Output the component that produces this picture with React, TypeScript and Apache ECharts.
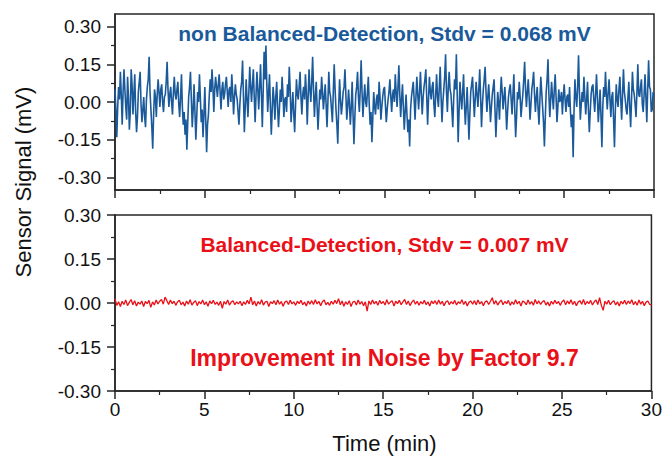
import React, { useEffect, useRef } from "react";
import * as echarts from "echarts";

// Sampling steps of the recorded traces (minutes)
const topStepMin = 0.05;
const bottomStepMin = 0.1;

// Top panel: non balanced detection (mV), one value every 0.05 min from 0 to 30 (one row per minute)
const nonBalancedSignal: number[] = [
  0.05, -0.03, -0.14, -0.02, 0.06, 0.01, 0.12, 0.03, -0.09, 0.04, 0.13, 0.05, -0.02, -0.07, 0.10, 0.02, -0.11, -0.04, 0.13, 0.07,
  -0.05, 0.03, 0.11, -0.04, -0.12, -0.06, 0.04, 0.08, 0.12, -0.01, -0.08, -0.03, 0.02, -0.06, -0.10, 0.01, 0.06, 0.09, 0.18, 0.04,
  -0.03, -0.10, -0.186, -0.05, 0.05, 0.02, -0.06, 0.03, 0.09, 0.04, -0.02, 0.05, 0.07, 0.00, -0.04, 0.02, 0.03, 0.08, 0.16, 0.05,
  -0.02, 0.03, 0.06, 0.00, -0.05, 0.04, 0.10, 0.03, 0.01, 0.05, 0.08, -0.01, -0.06, 0.02, 0.11, -0.02, -0.09, -0.04, -0.13, -0.07,
  -0.19, -0.08, 0.02, 0.06, 0.12, 0.01, -0.10, -0.03, 0.07, -0.04, -0.15, -0.06, 0.04, 0.00, 0.11, 0.02, -0.08, -0.03, -0.14, -0.05,
  0.06, -0.07, -0.20, -0.09, -0.05, 0.03, 0.09, 0.04, 0.13, 0.06, -0.04, 0.05, 0.10, 0.06, 0.02, 0.07, 0.11, 0.04, -0.03, 0.05,
  0.08, 0.01, 0.03, 0.07, 0.10, 0.04, -0.02, 0.05, 0.06, 0.00, 0.11, 0.04, -0.05, 0.02, 0.07, 0.03, 0.01, -0.04, -0.09, -0.01,
  0.05, 0.08, 0.165, 0.02, -0.12, -0.02, 0.09, 0.01, -0.06, 0.04, 0.14, 0.06, 0.00, 0.07, 0.13, 0.02, -0.08, 0.03, 0.12, 0.05,
  -0.03, 0.06, 0.15, 0.03, -0.10, 0.05, 0.20, 0.09, 0.225, 0.07, -0.04, 0.04, 0.11, -0.02, -0.13, -0.03, 0.06, 0.01, -0.07, 0.02,
  0.08, -0.02, -0.10, -0.03, 0.05, 0.00, 0.10, 0.03, -0.06, 0.01, 0.02, -0.04, 0.07, 0.02, 0.14, 0.05, -0.08, -0.02, 0.04, -0.05,
  -0.12, -0.01, 0.09, 0.03, 0.01, 0.06, 0.12, 0.02, -0.05, 0.03, 0.06, 0.01, 0.11, 0.04, -0.09, 0.02, 0.13, 0.05, 0.00, 0.08,
  0.18, 0.05, -0.06, 0.02, 0.08, -0.02, -0.11, -0.03, 0.05, 0.01, 0.10, 0.04, -0.03, 0.02, 0.07, -0.01, -0.10, 0.00, 0.12, 0.04,
  0.02, -0.03, -0.08, 0.04, 0.15, 0.05, -0.03, -0.09, -0.166, -0.02, 0.09, 0.01, -0.05, -0.01, 0.04, 0.06, 0.13, 0.03, -0.07, -0.02,
  0.05, -0.01, -0.09, -0.02, 0.08, -0.05, -0.168, -0.06, 0.03, 0.06, 0.12, 0.02, -0.04, 0.05, 0.166, 0.04, -0.06, 0.01, 0.07, 0.00,
  -0.02, 0.04, 0.10, -0.01, -0.09, -0.04, -0.16, -0.06, 0.04, -0.02, -0.05, 0.01, 0.03, -0.03, 0.08, 0.02, -0.07, -0.02, 0.02, 0.05,
  0.06, -0.01, -0.08, -0.03, 0.01, 0.04, 0.09, 0.02, -0.04, 0.03, 0.05, 0.00, 0.11, 0.04, -0.02, 0.06, 0.146, 0.03, -0.06, 0.01,
  0.07, -0.02, -0.11, -0.04, 0.03, -0.05, -0.12, -0.07, -0.177, -0.03, 0.02, 0.05, 0.08, 0.01, -0.07, 0.02, 0.10, 0.03, -0.03, 0.04,
  0.12, 0.03, -0.05, 0.02, 0.06, 0.09, 0.13, 0.02, -0.09, 0.01, 0.10, 0.04, 0.01, 0.06, 0.08, -0.01, -0.06, 0.03, 0.11, 0.02,
  -0.02, 0.06, 0.14, 0.02, -0.08, 0.00, 0.05, 0.10, 0.19, 0.04, -0.04, 0.06, 0.12, 0.05, 0.03, -0.03, -0.10, 0.01, 0.09, 0.05,
  0.19, 0.02, -0.16, -0.04, 0.08, 0.02, -0.03, 0.04, 0.11, -0.01, -0.09, -0.02, 0.06, -0.04, -0.15, -0.05, 0.04, 0.07, 0.10, 0.02,
  -0.06, 0.01, 0.08, 0.03, -0.02, 0.05, 0.13, 0.02, -0.10, -0.01, 0.05, 0.09, 0.14, 0.04, -0.04, 0.02, 0.07, 0.00, -0.08, -0.02,
  0.03, 0.06, 0.09, -0.03, -0.14, -0.05, 0.04, 0.00, -0.07, 0.03, 0.10, 0.04, -0.03, 0.02, 0.06, -0.02, -0.11, -0.04, 0.02, 0.05,
  0.07, 0.01, -0.05, 0.03, 0.11, -0.03, -0.14, -0.06, 0.04, 0.01, 0.08, 0.02, -0.06, -0.01, 0.03, 0.09, 0.16, 0.05, -0.02, 0.04,
  0.09, 0.02, -0.07, -0.01, 0.05, 0.08, 0.12, 0.03, -0.04, 0.02, 0.06, -0.03, -0.09, 0.01, 0.10, 0.04, -0.02, -0.08, -0.177, -0.06,
  0.04, 0.09, 0.17, 0.03, -0.06, 0.01, 0.08, 0.02, -0.03, 0.05, 0.11, 0.02, -0.08, -0.02, 0.05, 0.00, 0.01, 0.04, -0.05, 0.02,
  0.07, 0.01, -0.04, 0.02, 0.03, -0.02, 0.06, -0.04, -0.10, -0.05, -0.22, -0.03, 0.09, 0.02, -0.02, 0.06, 0.186, 0.04, -0.07, -0.01,
  0.04, 0.00, 0.10, 0.02, -0.05, 0.01, 0.08, -0.03, -0.12, -0.04, 0.03, 0.06, 0.07, 0.01, -0.04, 0.03, 0.11, 0.02, -0.08, -0.02,
  0.05, -0.06, -0.18, -0.02, 0.06, 0.02, 0.12, 0.03, -0.03, 0.04, 0.09, 0.01, -0.06, 0.02, 0.04, -0.07, -0.18, -0.03, 0.07, 0.01,
  -0.02, 0.05, 0.10, 0.01, -0.07, 0.03, 0.13, 0.04, 0.01, -0.03, -0.05, 0.02, 0.08, -0.02, -0.10, 0.01, 0.12, 0.05, 0.03, -0.01,
  -0.06, 0.04, 0.15, 0.03, 0.02, 0.06, 0.09, -0.01, -0.04, 0.03, 0.11, 0.02, -0.08, 0.05, 0.166, 0.06, 0.05, -0.04, -0.03, 0.04,
  0.02,
];

// Bottom panel: balanced detection (mV), one value every 0.1 min
const balancedSignal: number[] = [
  0.015, -0.008, 0.004, -0.012, 0.006, -0.005, 0.010, -0.009, 0.002, 0.012,
  -0.006, 0.008, -0.010, 0.003, -0.004, 0.007, -0.012, 0.005, -0.002, 0.009,
  -0.015, 0.004, -0.007, 0.010, -0.003, 0.006, 0.012, -0.004, 0.020, 0.008,
  -0.005, 0.010, -0.002, 0.006, -0.008, 0.004, 0.009, -0.006, 0.003, -0.010,
  0.007, -0.004, 0.011, -0.007, 0.002, 0.008, -0.009, 0.005, -0.003, 0.010,
  -0.006, 0.004, -0.011, 0.007, -0.002, 0.009, -0.005, 0.003, -0.008, 0.006,
  -0.018, 0.005, -0.004, 0.010, -0.007, 0.003, 0.008, -0.006, 0.004, -0.003,
  0.006, -0.009, 0.004, -0.005, 0.009, -0.003, 0.020, -0.006, 0.007, -0.010,
  0.005, -0.004, 0.011, -0.007, 0.003, 0.006, -0.012, 0.004, -0.002, 0.008,
  -0.006, 0.010, -0.004, 0.005, -0.011, 0.003, 0.007, -0.005, 0.009, -0.003,
  0.004, -0.008, 0.006, -0.002, 0.009, -0.006, 0.003, -0.010, 0.007, -0.004,
  0.008, -0.005, 0.011, -0.003, 0.006, -0.009, 0.004, 0.010, -0.006, 0.002,
  -0.008, 0.006, -0.004, 0.009, -0.002, 0.015, -0.006, 0.007, -0.011, 0.004,
  -0.005, 0.008, -0.012, 0.003, 0.006, -0.007, 0.010, -0.004, 0.005, -0.009,
  0.004, -0.028, 0.007, -0.005, 0.010, -0.003, 0.006, -0.008, 0.009, -0.002,
  0.005, -0.007, 0.011, -0.004, 0.003, 0.008, -0.010, 0.006, -0.002, 0.009,
  -0.006, 0.004, 0.012, -0.005, 0.007, -0.009, 0.003, 0.010, -0.004, 0.006,
  -0.008, 0.005, -0.003, 0.009, -0.006, 0.004, -0.010, 0.007, -0.002, 0.008,
  -0.005, 0.010, -0.004, 0.006, -0.009, 0.003, 0.008, -0.006, 0.005, -0.003,
  0.009, -0.007, 0.004, -0.002, 0.011, -0.005, 0.006, -0.010, 0.003, 0.007,
  -0.004, 0.008, -0.006, 0.010, -0.003, 0.005, -0.009, 0.004, 0.007, -0.005,
  0.006, 0.018, -0.004, 0.008, -0.007, 0.003, 0.010, -0.006, 0.005, -0.002,
  0.009, -0.008, 0.004, -0.005, 0.011, -0.003, 0.006, -0.010, 0.007, 0.003,
  -0.006, 0.010, -0.004, 0.005, -0.008, 0.012, -0.003, 0.007, -0.005, 0.004,
  0.008, -0.007, 0.003, -0.010, 0.006, -0.004, 0.009, -0.002, 0.005, -0.008,
  0.004, 0.010, -0.006, 0.007, -0.003, 0.011, -0.005, 0.006, -0.009, 0.003,
  0.008, -0.004, 0.012, -0.006, 0.005, -0.002, 0.009, -0.007, 0.004, 0.010,
  -0.005, 0.018, -0.008, -0.025, 0.006, -0.004, 0.009, -0.006, 0.003, 0.008,
  -0.007, 0.004, -0.010, 0.006, -0.003, 0.009, -0.005, 0.007, -0.002, 0.011,
  -0.006, 0.005, -0.008, 0.010, -0.004, 0.006, -0.009, 0.003, 0.007, -0.005,
  -0.006,
];

const xRange = [0, 30];
const xTickInterval = 5;
const topYRange = [-0.35, 0.35];
const yTickRange = [-0.3, 0.3];
const yTickInterval = 0.15;

const titleTop = "non Balanced-Detection, Stdv = 0.068 mV";
const titleBottom = "Balanced-Detection, Stdv = 0.007 mV";
const noteBottom = "Improvement in Noise by Factor 9.7";
const xName = "Time (min)";
const yName = "Sensor Signal (mV)";

const BLUE = "#1a5a9b";
const RED = "#ea1018";
const AXIS = "#262626";
const FONT = "'Liberation Sans', Arial, sans-serif";

export default function App() {
  const ref = useRef<HTMLDivElement>(null);

  useEffect(() => {
    if (!ref.current) return;
    const chart = echarts.init(ref.current, undefined, { renderer: "svg" });

    const topData = nonBalancedSignal.map((v, i) => [+(i * topStepMin).toFixed(3), v]);
    const botData = balancedSignal.map((v, i) => [+(i * bottomStepMin).toFixed(3), v]);

    const L = 115, W = 539, H = 176;
    const topT = 14, botT = 215;
    const span = topYRange[1] - topYRange[0];
    const tickGridTop = topT + ((topYRange[1] - yTickRange[1]) / span) * H;
    const tickGridH = ((yTickRange[1] - yTickRange[0]) / span) * H;

    const fmt = (v: number) => v.toFixed(2);

    const axisLine = { show: true, onZero: false, lineStyle: { color: AXIS, width: 1.5 } };
    const majorTick = { show: true, inside: false, length: 8, lineStyle: { color: AXIS, width: 1.5 } };
    const minorTick = { show: true, splitNumber: 2, length: 4, lineStyle: { color: AXIS, width: 1.2 } };
    const labelStyle = { color: "#111", fontSize: 19, fontFamily: FONT };

    const option: any = {
      animation: false,
      backgroundColor: "#ffffff",
      grid: [
        { left: L, top: topT, width: W, height: H, show: true, borderColor: AXIS, borderWidth: 1.5 },
        { left: L, top: botT, width: W, height: H, show: true, borderColor: AXIS, borderWidth: 1.5 },
        { left: L, top: tickGridTop, width: W, height: tickGridH, show: false },
      ],
      xAxis: [
        {
          gridIndex: 0, type: "value", min: xRange[0], max: xRange[1], interval: xTickInterval,
          axisLine, axisTick: majorTick, minorTick, axisLabel: { show: false }, splitLine: { show: false },
        },
        {
          gridIndex: 1, type: "value", min: xRange[0], max: xRange[1], interval: xTickInterval,
          axisLine, axisTick: majorTick, minorTick, splitLine: { show: false },
          axisLabel: { ...labelStyle, margin: 9 },
        },
        {
          gridIndex: 2, type: "value", min: xRange[0], max: xRange[1], show: false,
        },
      ],
      yAxis: [
        {
          gridIndex: 0, type: "value", min: topYRange[0], max: topYRange[1],
          axisLine, axisTick: { show: false }, axisLabel: { show: false }, splitLine: { show: false },
        },
        {
          gridIndex: 1, type: "value", min: yTickRange[0], max: yTickRange[1], interval: yTickInterval,
          axisLine, axisTick: majorTick, minorTick, splitLine: { show: false },
          axisLabel: { ...labelStyle, margin: 14, formatter: fmt },
        },
        {
          gridIndex: 2, type: "value", min: yTickRange[0], max: yTickRange[1], interval: yTickInterval,
          axisLine: { show: false, onZero: false }, axisTick: majorTick, minorTick, splitLine: { show: false },
          axisLabel: { ...labelStyle, margin: 14, formatter: fmt },
        },
      ],
      series: [
        {
          type: "line", xAxisIndex: 0, yAxisIndex: 0, data: topData, showSymbol: false,
          lineStyle: { color: BLUE, width: 1.6 }, silent: true,
        },
        {
          type: "line", xAxisIndex: 1, yAxisIndex: 1, data: botData, showSymbol: false,
          lineStyle: { color: RED, width: 1.3 }, silent: true,
        },
      ],
      graphic: [
        {
          type: "text", x: L + W / 2, y: 33,
          style: { text: titleTop, fill: BLUE, font: `bold 21px ${FONT}`, textAlign: "center", textVerticalAlign: "middle" },
        },
        {
          type: "text", x: L + W / 2, y: 244,
          style: { text: titleBottom, fill: RED, font: `bold 21px ${FONT}`, textAlign: "center", textVerticalAlign: "middle" },
        },
        {
          type: "text", x: L + W / 2, y: 358,
          style: { text: noteBottom, fill: RED, font: `bold 23px ${FONT}`, textAlign: "center", textVerticalAlign: "middle" },
        },
        {
          type: "text", x: L + W / 2, y: 443,
          style: { text: xName, fill: "#111", font: `22px ${FONT}`, textAlign: "center", textVerticalAlign: "middle" },
        },
        {
          type: "text", x: 23, y: 182, rotation: Math.PI / 2,
          style: { text: yName, fill: "#111", font: `22px ${FONT}`, textAlign: "center", textVerticalAlign: "middle" },
        },
      ],
    };

    chart.setOption(option);
    return () => chart.dispose();
  }, []);

  return (
    <div
      ref={ref}
      style={{ position: "fixed", left: 0, top: 0, width: 665, height: 458, background: "#fff" }}
    />
  );
}
